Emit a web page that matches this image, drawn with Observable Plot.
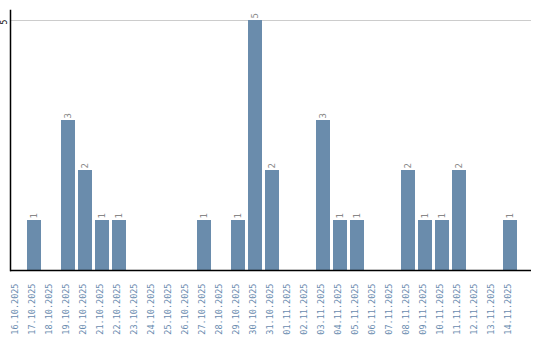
<!DOCTYPE html>
<html>
<head>
<meta charset="utf-8">
<script src="https://cdn.jsdelivr.net/npm/d3@7"></script>
<script src="https://cdn.jsdelivr.net/npm/@observablehq/plot@0.6"></script>
<style>
  html, body { margin: 0; padding: 0; background: #fff; }
</style>
</head>
<body>
<div id="chart"></div>
<script>
const dates = [
  "16.10.2025","17.10.2025","18.10.2025","19.10.2025","20.10.2025","21.10.2025",
  "22.10.2025","23.10.2025","24.10.2025","25.10.2025","26.10.2025","27.10.2025",
  "28.10.2025","29.10.2025","30.10.2025","31.10.2025","01.11.2025","02.11.2025",
  "03.11.2025","04.11.2025","05.11.2025","06.11.2025","07.11.2025","08.11.2025",
  "09.11.2025","10.11.2025","11.11.2025","12.11.2025","13.11.2025","14.11.2025"
];
const counts = [0,1,0,3,2,1,1,0,0,0,0,1,0,1,5,2,0,0,3,1,1,0,0,2,1,1,2,0,0,1];
const yTicks = [5];

const data = dates.map((d, i) => ({date: d, value: counts[i]}));
const nonZero = data.filter(d => d.value > 0);
const mono = "'DejaVu Sans Mono', monospace";

const chart = Plot.plot({
  width: 540,
  height: 340,
  marginLeft: 10,
  marginRight: 9,
  marginTop: 10,
  marginBottom: 70,
  style: {fontFamily: mono, background: "#fff"},
  x: {type: "band", domain: dates, range: [10, 517], paddingInner: 3/17, paddingOuter: 0, axis: null},
  y: {domain: [0, 5.2], axis: null},
  marks: [
    Plot.ruleY(yTicks, {stroke: "#cccccc", strokeWidth: 1}),
    Plot.barY(data, {x: "date", y: "value", fill: "#6a8cac"}),
    Plot.text(nonZero, {x: "date", y: "value", text: d => String(d.value), rotate: -90, textAnchor: "start", dy: -2, fill: "#888888", fontSize: 9, fontFamily: mono}),
    Plot.text(dates, {x: d => d, frameAnchor: "bottom", dy: 13, rotate: -90, textAnchor: "end", fill: "#6a8caf", fontSize: 8.5, fontFamily: mono}),
    Plot.text(yTicks, {y: d => d, frameAnchor: "left", dx: -6, dy: 4, rotate: -90, text: d => String(d), fill: "#000", fontSize: 8, fontFamily: mono}),
    Plot.ruleY([0], {stroke: "#000", strokeWidth: 1.5}),
    Plot.frame({anchor: "left", stroke: "#000", strokeWidth: 1.5})
  ]
});
document.getElementById("chart").appendChild(chart);
</script>
</body>
</html>
